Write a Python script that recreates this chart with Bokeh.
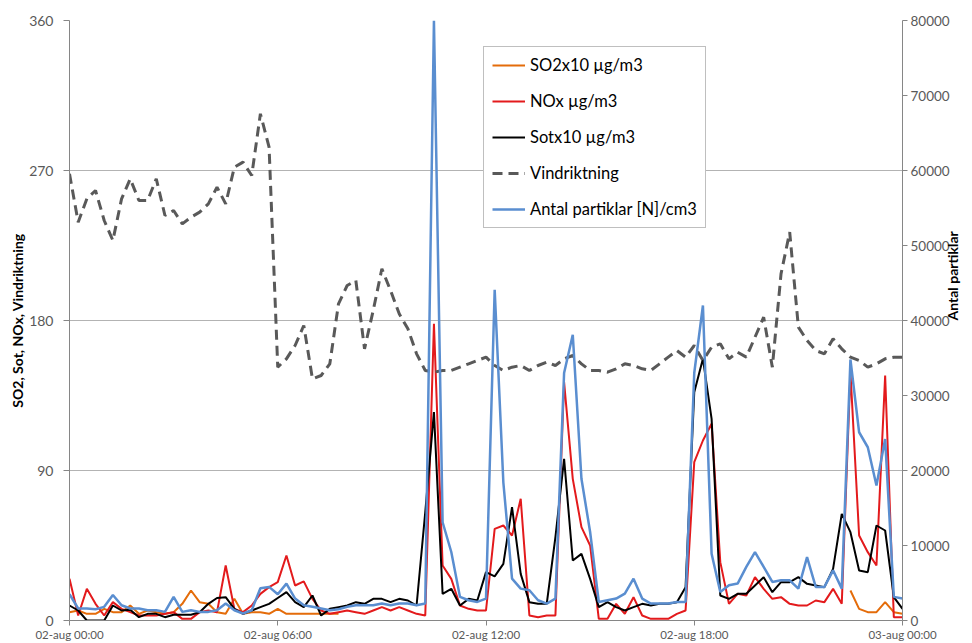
import math
from bokeh.plotting import figure
from bokeh.models import LinearAxis, Range1d, FixedTicker, Legend, LegendItem, ColumnDataSource
from bokeh.embed import file_html
from bokeh.resources import INLINE

NaN = float("nan")

# time of day in hours, 15-minute samples, 02-aug 00:00 .. 03-aug 00:00
hours = [i / 4 for i in range(97)]

tick_hours = [0, 6, 12, 18, 24]
tick_labels = ["02-aug 00:00", "02-aug 06:00", "02-aug 12:00", "02-aug 18:00", "03-aug 00:00"]

so2_x10 = [5, 6, 4, 4, 7, 5, 5, 9, 4, 6, 5, 4, 5, 10, 18, 11, 10, 5, 4, 13,
           4, 5, 5, 4, 7, 4, 4, 4, 4, 4, 4, 4] + [NaN] * 58 + [18, 7, 5, 5, 11, 5, 4]

nox = [25, 3, 19, 10, 3, 11, 7, 5, 3, 3, 3, 4, 5, 1, 1, 5, 6, 5, 33, 7,
       5, 9, 16, 20, 23, 39, 21, 23.5, 13, 6, 4, 5, 6, 5, 4, 6, 8, 6, 8, 6,
       4, 3, 178, 33, 25, 9, 7, 6, 6, 55, 57, 51, 73, 3, 2, 3, 3, 143, 85, 56,
       45, 1, 1, 10, 4, 14, 3, 1, 1, 1, 4, 6, 95, 108, 118, 35, 10, 16, 15, 26,
       19, 13, 14, 10, 9, 9, 12, 11, 19, 10, 149, 51, 41, 33, 147, 2, 2]

sot_x10 = [9, 6, 0, 0, 0, 9, 6, 6.5, 2, 4, 4, 2, 3.5, 3.5, 3.5, 5, 10, 13.5, 14, 7,
           4, 6, 8, 10, 13.5, 17, 11, 8, 15, 3, 7, 8, 9, 11, 10, 13, 13, 11, 13, 12,
           9, 65, 125, 16, 19, 9, 13, 12, 29, 26.5, 34, 68, 28, 11, 10, 10, 50, 97, 36, 40,
           25, 8, 11, 8, 6, 8, 10, 9, 10, 10, 11, 20, 137, 157, 121, 15, 13, 16, 16, 21,
           26, 17, 23, 23, 26, 22, 21, 20, 31, 64, 53, 30, 29, 57, 54, 14, 7]

vindriktning = [268, 239, 253, 258, 240, 228, 253, 265, 252, 252, 265, 243, 246, 238, 242, 245, 250, 260, 250, 272,
                275, 267, 304, 284, 152, 157, 165, 177, 145, 147, 154, 190, 201, 204, 163, 186, 211, 198, 184, 175,
                160, 150, 149, 150, 150, 152, 154, 156, 158, 153, 150, 152, 153, 150, 153, 155, 153, 157, 159, 154,
                150, 150, 149, 151, 154, 153, 151, 150, 154, 158, 162, 158, 165, 156, 164, 166, 157, 161, 158, 170,
                182, 152, 208, 233, 176, 168, 162, 160, 169, 163, 158, 156, 152, 154, 157, 158, 158]

partiklar = [3500, 1600, 1600, 1500, 1820, 3400, 2030, 1600, 1600, 1370, 1370, 1150, 3150, 1150, 1370, 1150, 1150, 1370, 2260, 1370,
             930, 1370, 4300, 4480, 3500, 4920, 2920, 2030, 1820, 1600, 1370, 1500, 1820, 2030, 2030, 2030, 2260, 2030, 2260, 2260,
             2030, 2260, 80000, 13100, 9130, 3150, 2700, 2480, 2920, 44100, 18400, 5580, 4250, 4030, 2700, 2260, 2920, 33000, 38100, 18900,
             11800, 2480, 2700, 2920, 3590, 5580, 2920, 2260, 2260, 2260, 2480, 2480, 33000, 42000, 8900, 3810, 4700, 4920, 7140, 9130,
             7140, 5140, 5360, 5360, 4250, 8460, 4480, 4480, 6690, 4250, 34800, 25100, 23100, 18000, 24200, 3150, 2920]

names = ["SO2x10 µg/m3", "NOx µg/m3", "Sotx10 µg/m3", "Vindriktning", "Antal partiklar [N]/cm3"]

src = ColumnDataSource(dict(h=hours, so2=so2_x10, nox=nox, sot=sot_x10, vind=vindriktning, part=partiklar))

FONT = "Lato"
GRAY_TXT = "#595959"
AX_COL = "#868686"

p = figure(width=972, height=643, output_backend="svg", toolbar_location=None,
           x_range=Range1d(0, 24), y_range=Range1d(0, 360),
           min_border_left=69, min_border_right=60, min_border_top=20, min_border_bottom=21)
p.outline_line_color = None
p.background_fill_color = "white"
p.border_fill_color = "white"
p.extra_y_ranges = {"part": Range1d(0, 80000)}

# x axis
xa = p.xaxis[0]
xa.ticker = FixedTicker(ticks=tick_hours)
xa.major_label_overrides = {h: t for h, t in zip(tick_hours, tick_labels)}
xa.major_label_text_font = FONT
xa.major_label_text_font_size = "11.5px"
xa.major_label_text_color = GRAY_TXT
xa.major_label_standoff = 2
xa.major_tick_out = 5
xa.major_tick_in = 0
xa.minor_tick_line_color = None
xa.axis_line_color = AX_COL
xa.major_tick_line_color = AX_COL

# left axis
ya = p.yaxis[0]
ya.ticker = FixedTicker(ticks=[0, 90, 180, 270, 360])
ya.axis_label = "SO2, Sot, NOx, Vindriktning"
ya.axis_label_text_font = FONT
ya.axis_label_text_font_style = "bold"
ya.axis_label_text_font_size = "14px"
ya.axis_label_text_color = "#000000"
ya.axis_label_standoff = 0
ya.major_label_text_font = FONT
ya.major_label_text_font_size = "14px"
ya.major_label_text_color = GRAY_TXT
ya.major_label_standoff = 10
ya.major_tick_out = 6
ya.major_tick_in = 0
ya.minor_tick_line_color = None
ya.axis_line_color = AX_COL
ya.major_tick_line_color = AX_COL

# right axis
yr = LinearAxis(y_range_name="part", ticker=FixedTicker(ticks=list(range(0, 80001, 10000))))
yr.axis_label = "Antal partiklar"
yr.axis_label_text_font = FONT
yr.axis_label_text_font_style = "bold"
yr.axis_label_text_font_size = "14px"
yr.axis_label_text_color = "#000000"
yr.axis_label_text_line_height = 0.9
yr.axis_label_standoff = 0
try:
    yr.axis_label_orientation = math.pi / 2
except Exception:
    pass
yr.major_label_text_font = FONT
yr.major_label_text_font_size = "13.5px"
yr.major_label_text_color = GRAY_TXT
yr.major_label_standoff = 3
yr.major_tick_out = 5
yr.major_tick_in = 0
yr.minor_tick_line_color = None
yr.axis_line_color = AX_COL
yr.major_tick_line_color = AX_COL
p.add_layout(yr, "right")

p.xgrid.grid_line_color = None
p.ygrid.grid_line_color = "#B3B3B3"
p.ygrid.grid_line_width = 1

r_so2 = p.line("h", "so2", source=src, line_color="#E46C0A", line_width=2)
r_nox = p.line("h", "nox", source=src, line_color="#E31A1C", line_width=2)
r_sot = p.line("h", "sot", source=src, line_color="#000000", line_width=2)
r_vind = p.line("h", "vind", source=src, line_color="#595959", line_width=3, line_dash="10 6")
r_part = p.line("h", "part", source=src, y_range_name="part", line_color="#5A8ED0", line_width=2.5)

legend = Legend(items=[LegendItem(label=n, renderers=[r]) for n, r in
                       zip(names, [r_so2, r_nox, r_sot, r_vind, r_part])],
                location=(414, 392), margin=0, padding=8, spacing=16,
                glyph_width=33, glyph_height=20, label_height=20, label_standoff=5,
                label_text_font=FONT, label_text_font_size="16.5px", label_text_color="#000000",
                border_line_color="#7F7F7F", border_line_width=1,
                background_fill_color="white", background_fill_alpha=1.0)
p.add_layout(legend, "center")

open("out.html", "w").write(file_html(p, INLINE))
